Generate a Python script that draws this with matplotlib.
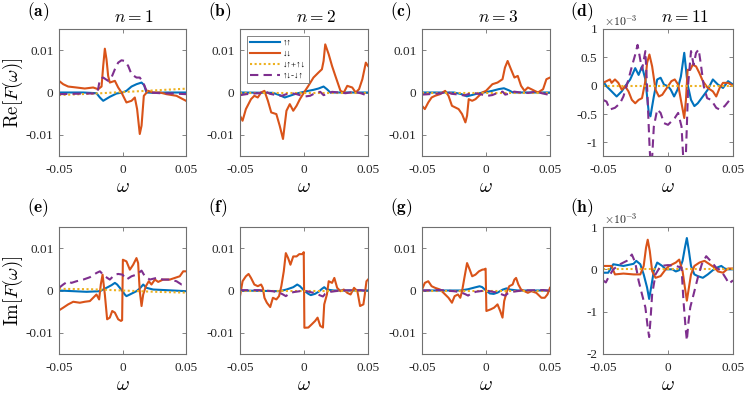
import matplotlib
matplotlib.use('Agg')
import matplotlib.pyplot as plt

plt.rcParams['mathtext.fontset'] = 'cm'
plt.rcParams['font.family'] = ['Liberation Serif', 'DejaVu Serif']

SCALE = 1e-3  # all omega and F values below are in units of 1e-3

LABELS = ['↑↑', '↓↓', '↓↑+↑↓', '↑↓-↓↑']
COLORS = ['#0072BD', '#D95319', '#EDB120', '#7E2F8E']
DASHES = [None, None, (1, 1.2), (4, 2.5)]
PANEL_TAGS = ['(a)', '(b)', '(c)', '(d)', '(e)', '(f)', '(g)', '(h)']
TITLES = ['$n=1$', '$n=2$', '$n=3$', '$n=11$']
XTICKS = [-50, 0, 50]
XTICKLABELS = ['-0.05', '0', '0.05']
YTICKS_MAIN = [-10, 0, 10]
YTICKLABELS_MAIN = ['-0.01', '0', '0.01']
YTICKS_D = [-1, -0.5, 0, 0.5, 1]
YTICKLABELS_D = ['-1', '-0.5', '0', '0.5', '1']
YTICKS_H = [-2, -1, 0, 1]
YTICKLABELS_H = ['-2', '-1', '0', '1']

# ---------------- panel (a) Re, n=1 ----------------
a_uu_w = [-50, -31, -20.5, -17.8, -15.2, -10, -4.7, 0, 3.1, 7.1, 11, 15, 17, 18.9, 24, 34.6, 50]
a_uu = [0, 0, -0.16, -1.18, -1.96, -1.02, -0.24, 0, 0.39, 1.41, 1.96, 2.35, 1.73, 0, -0.08, 0, 0]
a_dd_w = [-50, -46.7, -42.8, -36.2, -29.7, -23.1, -19.2, -16.5, -15.2, -13.9, -12.6, -11.3, -10, -6, -3.4,
          -0.8, 3.1, 7.1, 9.7, 11.5, 13.6, 15, 16.8, 20.2, 24.1, 29.4, 34.6, 42.5, 50]
a_dd = [2.75, 1.96, 1.41, 1.18, 0.94, 1.18, 0.78, 1.41, 6.27, 10.35, 7.84, 3.92, 2.35, 2.75, 1.18,
        0, -2.35, -1.96, -1.18, -3.92, -9.8, -7.84, -0.78, 0.39, 0, 0, -0.39, -0.78, -1.96]
a_sym_w = [-50, -25, 0, 25, 50]
a_sym = [-0.6, -0.3, 0.1, 0.5, 0.9]
a_ud_w = [-50, -38.8, -28.3, -20.5, -19.2, -17.8, -15.2, -11.3, -8.7, -6, -3.4, -0.8, 1.8, 4.5, 7.1,
          11, 13.6, 16.3, 18.9, 21.5, 29.4, 39.9, 50]
a_ud = [-0.39, -0.31, -0.24, -0.24, 0.78, 3.14, 3.53, 2.75, 3.53, 5.49, 7.06, 7.61, 7.45, 6.27, 4.31,
        3.53, 3.53, 2.35, 0.39, 0, -0.16, -0.24, -0.39]

# ---------------- panel (b) Re, n=2 ----------------
b_uu_w = [-50, -24.3, -19, -15, -11.1, -5.8, 0, 3.4, 7.4, 11.3, 15.3, 17.9, 20.6, 50]
b_uu = [0, -0.08, -0.63, -1.18, -0.78, -0.24, 0.16, 0.39, 0.63, 0.94, 1.41, 0.78, 0, 0]
b_dd_w = [-50, -48, -45.4, -41.4, -38.8, -36.1, -33.5, -30.9, -28.2, -25.6, -21.6, -19, -16.4, -13.7,
          -11.1, -8.4, -5.8, -3.2, 0, 3.4, 7.4, 11.3, 14, 15.3, 16.6, 19.3, 21.9, 24.5, 28.5, 31.1,
          33.8, 37.7, 40.4, 43, 45.6, 48.3, 50]
b_dd = [-5.49, -6.67, -3.92, -1.57, -0.78, -1.18, 0, 0.39, -1.96, -4.71, -5.1, -7.84, -10.98, -4.31,
        -2.75, -4.31, -3.14, -1.57, 0, 1.57, 3.53, 4.71, 5.49, 7.45, 11.37, 9.02, 6.27, 3.92, 0.39, 0,
        1.57, 1.18, 0, 0.78, 3.14, 7.06, 6.27]
b_sym_w = [-50, 50]
b_sym = [0, 0]
b_ud_w = [-50, -45, -39.8, -34.6, -30.6, -26.6, -21.4, -17.4, -13.7, -9.8, -5.8, -3.2, 0.8, 4.7, 8.7,
          12.7, 15.3, 17.9, 21.9, 27.2, 32.5, 39.1, 44.3, 50]
b_ud = [-0.63, -0.39, -0.24, -0.16, 0.31, -0.31, -0.63, -0.78, -0.39, -0.16, -0.39, -0.63, -0.94,
        -0.78, -0.16, 0.16, -0.63, -0.39, 0.16, 0, -0.16, 0.16, -0.16, -0.78]

# ---------------- panel (c) Re, n=3 ----------------
c_uu_w = [-50, -25, -19, -15, -11, -6, 0, 5, 10, 14, 18, 21, 50]
c_uu = [0, 0, -0.4, -0.9, -0.6, -0.2, 0.1, 0.4, 0.8, 1.0, 0.5, 0, 0]
c_dd_w = [-50, -47.8, -45.1, -42.5, -39.8, -35.9, -31.9, -29.3, -26.6, -24, -21.4, -18.7, -16.1, -14.8,
          -13.5, -10.8, -8.2, -5.5, -2.9, 0, 5, 9, 12.9, 14.8, 16.9, 19.5, 22.2, 24.8, 27.4, 30.1, 32.7,
          35.4, 38, 40.6, 44.6, 47.2, 50]
c_dd = [-3.14, -3.92, -2.35, -1.18, -0.78, -0.39, 0.39, -0.78, -3.14, -3.53, -3.92, -5.1, -7.06, -5.49,
        -1.57, -1.96, -1.57, -0.78, 0, 0.39, 1.96, 2.35, 3.14, 5.88, 7.45, 5.49, 3.53, 3.92, 1.57, 0.39,
        1.18, 0.78, 0.39, 0, 0.78, 3.14, 3.53]
c_sym_w = [-50, 50]
c_sym = [0, 0]
c_ud_w = [-50, -45, -40, -35, -31, -27, -21, -17, -14, -10, -6, -3, 1, 5, 9, 13, 15, 18, 22, 27, 33,
          39, 44, 50]
c_ud = [-0.5, -0.4, -0.3, -0.2, 0.2, -0.3, -0.5, -0.7, -0.4, -0.1, -0.3, -0.5, -0.8, -0.6, -0.1, 0.2,
        -0.5, -0.3, 0.2, 0, -0.1, 0.2, -0.2, -0.6]

# ---------------- panel (d) Re, n=11 ----------------
d_uu_w = [-50, -47.3, -43.4, -39.5, -35.6, -33, -29.1, -25.2, -22.6, -20, -17.4, -14.8, -13.5, -10.9,
          -8.3, -5.7, -3.1, 0, 2.1, 4.7, 7.3, 9.9, 12.5, 15.1, 17.7, 20.3, 22.9, 26.8, 30.6, 34.5, 38.4,
          42.3, 46.2, 50]
d_uu = [0.08, -0.01, -0.1, -0.19, -0.1, -0.01, 0.11, 0.31, 0.19, 0.34, 0.11, -0.48, -0.54, -0.19,
        0.11, 0.14, 0.02, -0.01, -0.07, -0.19, -0.07, 0.16, 0.58, 0.02, -0.25, -0.36, -0.31, -0.19,
        -0.07, 0.11, 0.02, -0.04, 0.08, 0.02]
d_dd_w = [-50, -47.3, -44.7, -43.4, -40.8, -38.2, -35.6, -33, -30.4, -27.8, -25.2, -22.6, -20, -17.4,
          -16.1, -14.3, -12.2, -9.6, -7, -4.4, -1.8, 0, 2.6, 5.2, 7.8, 9.9, 12.5, 13.8, 15.1, 17.1, 19,
          21.6, 24.2, 26.8, 30.6, 34.5, 37.1, 39.7, 42.3, 46.2, 50]
d_dd = [0.05, 0.08, 0.11, 0.05, 0.11, 0.05, -0.07, -0.01, -0.1, -0.25, -0.31, -0.25, -0.22, 0.08, 0.4,
        0.55, 0.34, -0.07, -0.19, -0.16, -0.07, -0.01, 0.08, 0.11, 0.02, -0.25, -0.57, -0.25, 0.28,
        0.28, 0.37, 0.34, 0.22, 0.08, -0.04, -0.1, -0.19, -0.04, 0.05, 0.05, 0]
d_sym_w = [-50, 50]
d_sym = [0, 0]
d_ud_w = [-50, -47.3, -44.7, -40.8, -36.9, -34.3, -30.4, -27.8, -25.2, -23.4, -21.8, -20, -17.4, -16.1,
          -14.3, -13, -10.9, -8.3, -5.7, -3.1, 0, 2.6, 5.2, 7.8, 10.4, 12.5, 13.8, 15.6, 17.7, 19.7,
          21.6, 23.6, 25.5, 27.5, 30.1, 33.2, 37.1, 39.7, 43.6, 47.5, 50]
d_ud = [-0.25, -0.28, -0.42, -0.39, -0.31, -0.19, 0.11, 0.34, 0.55, 0.72, 0.52, 0.28, 0.61, -0.01,
        -1.01, -1.6, -0.72, -0.42, -0.48, -0.66, -0.69, -0.63, -0.57, -0.48, -0.72, -1.6, -1.19, 0.05,
        0.61, 0.37, 0.58, 0.64, 0.34, -0.01, -0.22, -0.25, -0.39, -0.42, -0.36, -0.25, -0.22]

# ---------------- panel (e) Im, n=1 ----------------
e_uu_w = [-50, -38.8, -28.3, -17.8, -12.6, -8.7, -6, -4.2, -2.1, 0, 1.8, 3.1, 5.8, 8.4, 11, 13.6,
          16.3, 18.9, 24.1, 34.6, 50]
e_uu = [0, -0.16, -0.31, -0.16, 0.63, 1.25, 1.8, 1.41, 0.63, -0.16, -0.94, -1.33, -0.94, -0.55,
        -0.16, 0.47, 1.41, 0.63, 0.23, 0.08, -0.16]
e_dd_w = [-50, -46.7, -42.8, -38.8, -33.6, -29.7, -25.7, -23.1, -20.5, -18.4, -17.1, -15.7, -13.9,
          -12.1, -10, -8.1, -6, -3.4, -1.2, -0.3, 0.3, 3.1, 5.8, 8.4, 11, 12.3, 13.6, 15, 16.3, 18.4,
          20.7, 22.8, 25.5, 28.1, 32, 37.3, 41.2, 45.1, 47.8, 50]
e_dd = [-4.69, -4.06, -3.28, -2.66, -2.89, -2.66, -2.5, -1.72, -0.94, -2.11, 1.41, 3.75, -0.94, -6.8,
        -6.41, -4.84, -5.23, -6.8, -7.19, -7.0, 7.27, 6.88, 4.92, 6.09, 7.66, 6.48, -0.16, -3.67,
        -0.94, 1.02, 2.19, 1.41, 2.58, 2.03, 2.58, 2.58, 2.97, 3.36, 4.53, 4.53]
e_sym_w = [-50, -25, 0, 25, 50]
e_sym = [0.4, 0.3, 0, -0.3, -0.5]
e_ud_w = [-50, -46.7, -42.8, -40.2, -36.2, -30.9, -25.7, -20.5, -17.8, -13.9, -10, -6, -3.4, 0, 3.1,
          7.1, 11, 15, 17.6, 21.5, 26.8, 32, 37.3, 42.5, 46.5, 50]
e_ud = [0.63, 1.41, 2.19, 1.8, 2.19, 2.58, 3.13, 4.14, 4.53, 3.36, 2.58, 3.75, 3.91, 3.75, 2.58, 3.36,
        3.75, 4.69, 3.36, 2.58, 2.97, 2.58, 2.58, 2.19, 1.41, 1.41]

# ---------------- panel (f) Im, n=2 ----------------
f_uu_w = [-50, -19, -13.7, -8.4, -5.3, -3.2, 0, 3.4, 5.3, 8.7, 11.3, 14, 15.8, 17.9, 23.2, 50]
f_uu = [0, -0.16, 0.23, 0.78, 1.41, 1.02, 0, -0.78, -1.09, -0.78, -0.31, 0.39, 0.78, 0.23, 0, 0]
f_dd_w = [-50, -48, -45.4, -43.3, -41.4, -38.8, -36.1, -33.5, -32.2, -30.9, -29, -26.4, -24.3, -21.6,
          -19.5, -17.7, -15.8, -14.2, -12.4, -10.6, -8.4, -5.8, -3.7, -1.1, -0.2, 0.3, 3.4, 6.1, 8.7,
          10.6, 12.7, 14.8, 15.8, 17.9, 19.3, 21.9, 23.7, 25.9, 28.5, 31.1, 33.8, 36.4, 39.1, 41.7,
          43.8, 46.4, 47.5, 48.8, 50]
f_dd = [-1.33, 2.19, 3.36, 3.91, 2.97, 1.41, 1.02, 1.41, 0.63, -1.72, -2.89, -3.91, -1.72, -2.11,
        -1.33, 1.02, 4.53, 8.83, 7.66, 6.09, 8.05, 8.05, 8.59, 8.6, 9.06, -8.8, -8.75, -7.97, -7.19,
        -6.41, -8.36, -8.75, -3.28, -0.94, 2.19, 1.8, 2.97, 0.63, -0.16, 0.23, -0.55, -0.94, 0.63,
        -0.16, -3.67, -3.28, -0.94, 2.19, 2.58]
f_sym_w = [-50, 50]
f_sym = [0, 0]
f_ud_w = [-50, -34.8, -24.3, -19, -16.4, -14.2, -12.4, -8.4, -3.2, 2.1, 7.4, 10, 12.7, 14.8, 16.6,
          20.6, 28.5, 44.3, 50]
f_ud = [0.08, 0.08, -0.16, -0.55, -0.94, -1.33, -0.94, -0.39, -0.16, -0.16, -0.55, -0.78, -1.17,
        -1.41, -0.78, -0.31, 0, 0.08, -0.16]

# ---------------- panel (g) Im, n=3 ----------------
g_uu_w = [-50, -20, -14, -9, -5, -3, 0, 3, 6, 9, 13, 16, 19, 25, 50]
g_uu = [0, 0, 0.3, 0.7, 1.0, 0.8, 0, -0.7, -0.8, -0.5, 0.2, 0.5, 0.2, 0, 0]
g_dd_w = [-50, -47.8, -45.1, -42.5, -39.8, -35.9, -33.2, -29.3, -26.6, -24.5, -21.9, -20.1, -18.7,
          -16.9, -14.8, -12.7, -10.8, -8.2, -5.5, -2.9, -1.1, -0.3, 0.3, 3.7, 6.3, 9, 11.1, 12.9, 14.2,
          16.4, 18.2, 20.8, 22.2, 23.5, 25.3, 27.4, 30.1, 32.7, 35.4, 39.3, 43.3, 45.9, 48, 50]
g_dd = [0.23, 1.8, 2.19, 1.02, 0.63, 0.23, -0.55, -1.72, -2.89, -1.33, -0.94, -1.72, -0.16, 2.97,
        6.48, 4.92, 3.36, 3.75, 4.53, 4.92, 5.0, 5.16, -4.84, -4.45, -4.06, -3.28, -4.84, -6.41, -2.5,
        -0.16, 1.02, 1.41, 2.58, 2.97, 1.41, 0.23, -0.16, -0.55, -0.16, -0.55, -1.72, -1.72, -0.94, 0.63]
g_sym_w = [-50, 50]
g_sym = [0, 0]
g_ud_w = [-50, -35, -24, -19, -16, -14, -12, -8, -3, 2, 7, 10, 13, 15, 17, 21, 28, 45, 50]
g_ud = [0, 0.1, -0.2, -0.5, -0.9, -1.2, -0.8, -0.3, -0.1, -0.1, -0.4, -0.6, -1.0, -1.2, -0.7, -0.3,
        0, 0.1, -0.1]

# ---------------- panel (h) Im, n=11 ----------------
h_uu_w = [-50, -46, -42.1, -34.3, -26.5, -24.4, -21.3, -18.7, -16.1, -14.5, -13, -10.9, -8.3, -4.4,
          -1.8, 0.8, 3.4, 6, 8.6, 11.2, 13, 14.5, 16.1, 17.7, 20.3, 22.9, 26.8, 30.6, 34.5, 38.4, 41,
          43.6, 46.2, 50]
h_uu = [-0.08, -0.08, 0.12, 0.08, 0.13, 0.2, 0.12, -0.12, -0.43, -0.7, -0.43, -0.04, 0.16, 0.08, 0,
        0, 0, -0.05, -0.02, 0.2, 0.51, 0.74, 0.43, 0.08, -0.12, -0.16, -0.2, -0.12, -0.02, 0.05, 0.08,
        0.02, 0, 0]
h_dd_w = [-50, -43.4, -40.8, -34.3, -26.5, -21.3, -18.7, -16.9, -15.6, -14, -12.2, -9.6, -5.7, -1.8,
          0.8, 3.4, 6, 8.6, 11.2, 13, 14.5, 16.1, 17.7, 20.3, 24.2, 28.1, 32, 35.8, 38.4, 42.3, 46.2, 50]
h_dd = [0.08, 0.08, -0.12, -0.1, -0.12, -0.12, 0.08, 0.51, 0.7, 0.43, -0.04, -0.2, -0.16, 0, 0.08,
        0.12, 0.16, 0.23, -0.04, -0.43, -0.74, -0.43, -0.12, 0.08, 0.16, 0.2, 0.12, 0.04, -0.05, -0.08,
        0.02, 0.02]
h_sym_w = [-50, 50]
h_sym = [0, 0]
h_ud_w = [-50, -47.8, -46, -42.1, -36.9, -31.7, -27.8, -25.2, -22.6, -20, -17.4, -15.6, -14.5, -13.5,
          -12.2, -9.6, -5.7, 0, 6, 10.4, 11.9, 13.5, 14.5, 15.6, 17.1, 19.7, 22.9, 26, 29.4, 32.7, 37.1,
          41, 44.9, 46.8, 50]
h_ud = [-0.26, -0.31, -0.2, 0, 0.12, 0.2, 0.35, 0.16, -0.27, -0.59, -0.9, -1.37, -1.6, -1.21, -0.59,
        -0.12, 0.08, 0.1, 0.08, 0.04, -0.74, -1.37, -1.68, -1.29, -0.9, -0.59, -0.2, 0.12, 0.31, 0.2,
        0.04, -0.04, -0.23, -0.34, -0.26]

PANELS = [
    [(a_uu_w, a_uu), (a_dd_w, a_dd), (a_sym_w, a_sym), (a_ud_w, a_ud)],
    [(b_uu_w, b_uu), (b_dd_w, b_dd), (b_sym_w, b_sym), (b_ud_w, b_ud)],
    [(c_uu_w, c_uu), (c_dd_w, c_dd), (c_sym_w, c_sym), (c_ud_w, c_ud)],
    [(d_uu_w, d_uu), (d_dd_w, d_dd), (d_sym_w, d_sym), (d_ud_w, d_ud)],
    [(e_uu_w, e_uu), (e_dd_w, e_dd), (e_sym_w, e_sym), (e_ud_w, e_ud)],
    [(f_uu_w, f_uu), (f_dd_w, f_dd), (f_sym_w, f_sym), (f_ud_w, f_ud)],
    [(g_uu_w, g_uu), (g_dd_w, g_dd), (g_sym_w, g_sym), (g_ud_w, g_ud)],
    [(h_uu_w, h_uu), (h_dd_w, h_dd), (h_sym_w, h_sym), (h_ud_w, h_ud)],
]

W, H = 747, 394
fig = plt.figure(figsize=(W / 100, H / 100), dpi=100)

lefts = [59, 240, 422, 603]
widths = [127, 128, 128, 130]
tops = [29, 227]
AX_H = 127
FRAME = '#707070'

for idx, series in enumerate(PANELS):
    row, col = divmod(idx, 4)
    l, w, t = lefts[col], widths[col], tops[row]
    ax = fig.add_axes([l / W, 1 - (t + AX_H) / H, w / W, AX_H / H])
    for k, (ws, vs) in enumerate(series):
        kw = dict(color=COLORS[k], linewidth=1.5, label=LABELS[k])
        if DASHES[k] is not None:
            kw['dashes'] = DASHES[k]
        ax.plot([x * SCALE for x in ws], [v * SCALE for v in vs], **kw)
    ax.set_xlim(-0.05, 0.05)
    ax.set_xticks([x * SCALE for x in XTICKS])
    ax.set_xticklabels(XTICKLABELS)
    if col < 3:
        ax.set_ylim(-0.015, 0.015)
        ax.set_yticks([y * SCALE for y in YTICKS_MAIN])
        ax.set_yticklabels(YTICKLABELS_MAIN)
    elif row == 0:
        ax.set_ylim(-1.24e-3, 1e-3)
        ax.set_yticks([y * SCALE for y in YTICKS_D])
        ax.set_yticklabels(YTICKLABELS_D)
        ax.text(0.01, 1.025, r'$\times10^{-3}$', transform=ax.transAxes, fontsize=8.5,
                ha='left', va='baseline', color='#262626')
    else:
        ax.set_ylim(-2e-3, 1e-3)
        ax.set_yticks([y * SCALE for y in YTICKS_H])
        ax.set_yticklabels(YTICKLABELS_H)
        ax.text(0.01, 1.025, r'$\times10^{-3}$', transform=ax.transAxes, fontsize=8.5,
                ha='left', va='baseline', color='#262626')
    ax.tick_params(direction='in', top=True, right=True, length=3, width=0.6,
                   color=FRAME, labelsize=9.5, labelcolor='#262626')
    ax.tick_params(axis='x', pad=6)
    ax.tick_params(axis='y', pad=4)
    for s in ax.spines.values():
        s.set_color(FRAME)
        s.set_linewidth(0.8)
    ax.set_xlabel(r'$\omega$', fontsize=14)
    ax.xaxis.set_label_coords(0.5, -0.18)
    if col == 0:
        ax.set_ylabel(r'$\mathrm{Re}[F(\omega)]$' if row == 0 else r'$\mathrm{Im}[F(\omega)]$',
                      fontsize=13.5)
        ax.yaxis.set_label_coords(-0.27, 0.5)
    if row == 0:
        ax.text(0.63 if col == 3 else 0.59, 1.055, TITLES[col], transform=ax.transAxes,
                ha='center', va='baseline', fontsize=12.5)
    tag = PANEL_TAGS[idx]
    ax.text(-0.25, 1.10 if row == 0 else 1.115, r'$\mathbf{' + tag + '}$', transform=ax.transAxes,
            ha='left', va='baseline', fontsize=12.5)
    if idx == 1:
        leg = ax.legend(loc='upper left', bbox_to_anchor=(0.055, 0.945),
                        handlelength=3.4, handletextpad=0.3, labelspacing=0.3,
                        borderpad=0.3, borderaxespad=0, fancybox=False, framealpha=1,
                        prop={'family': ['Liberation Serif', 'DejaVu Sans'], 'size': 6.5})
        leg.get_frame().set_edgecolor(FRAME)
        leg.get_frame().set_linewidth(0.6)

fig.savefig('out.png', dpi=100)
